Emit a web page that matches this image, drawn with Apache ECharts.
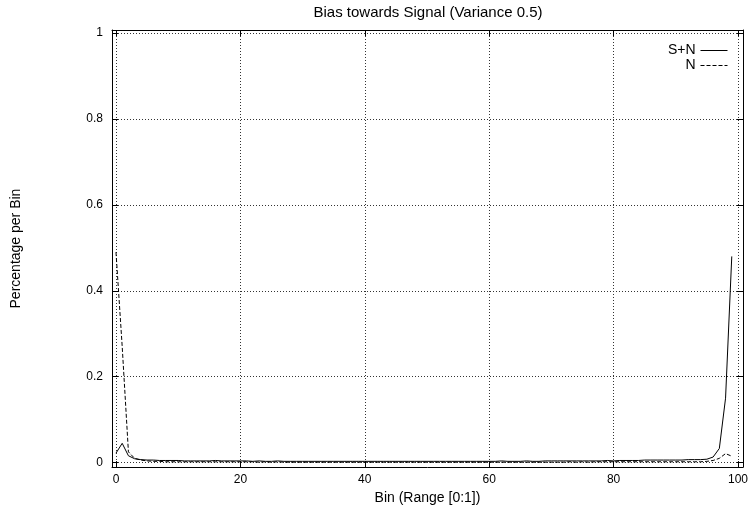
<!DOCTYPE html>
<html>
<head>
<meta charset="utf-8">
<script src="https://cdn.jsdelivr.net/npm/echarts@6/dist/echarts.min.js"></script>
<style>
  html, body { margin: 0; padding: 0; background: #fff; }
  #chart { width: 751px; height: 510px; }
</style>
</head>
<body>
<div id="chart"></div>
<script>
// bin index 0..99
var aBins = [
	0, 1, 2, 3, 4, 5, 6, 7, 8, 9, 10, 11, 12, 13, 14, 15, 16, 17, 18, 19,
	20, 21, 22, 23, 24, 25, 26, 27, 28, 29, 30, 31, 32, 33, 34, 35, 36, 37, 38, 39,
	40, 41, 42, 43, 44, 45, 46, 47, 48, 49, 50, 51, 52, 53, 54, 55, 56, 57, 58, 59,
	60, 61, 62, 63, 64, 65, 66, 67, 68, 69, 70, 71, 72, 73, 74, 75, 76, 77, 78, 79,
	80, 81, 82, 83, 84, 85, 86, 87, 88, 89, 90, 91, 92, 93, 94, 95, 96, 97, 98, 99
];
// S+N
var aSignalNoise = [
	0.022, 0.045, 0.016, 0.009, 0.007, 0.006, 0.006, 0.005, 0.005, 0.005,
	0.005, 0.004, 0.004, 0.004, 0.004, 0.004, 0.005, 0.004, 0.004, 0.004,
	0.004, 0.004, 0.003, 0.004, 0.003, 0.003, 0.004, 0.003, 0.003, 0.003,
	0.003, 0.003, 0.003, 0.003, 0.003, 0.003, 0.003, 0.003, 0.003, 0.003,
	0.003, 0.003, 0.003, 0.003, 0.003, 0.003, 0.003, 0.003, 0.003, 0.003,
	0.003, 0.003, 0.003, 0.003, 0.003, 0.003, 0.003, 0.003, 0.003, 0.003,
	0.003, 0.003, 0.004, 0.003, 0.003, 0.003, 0.004, 0.003, 0.003, 0.004,
	0.004, 0.004, 0.004, 0.004, 0.004, 0.004, 0.004, 0.004, 0.004, 0.005,
	0.004, 0.005, 0.005, 0.005, 0.005, 0.006, 0.006, 0.006, 0.006, 0.006,
	0.006, 0.006, 0.007, 0.007, 0.007, 0.008, 0.013, 0.033, 0.150, 0.480
];
// N
var aNoise = [
	0.490, 0.270, 0.025, 0.010, 0.006, 0.004, 0.003, 0.003, 0.002, 0.002,
	0.002, 0.002, 0.002, 0.002, 0.002, 0.002, 0.002, 0.002, 0.002, 0.002,
	0.002, 0.002, 0.002, 0.001, 0.002, 0.001, 0.002, 0.001, 0.001, 0.001,
	0.001, 0.001, 0.001, 0.001, 0.001, 0.001, 0.001, 0.001, 0.001, 0.001,
	0.001, 0.001, 0.001, 0.001, 0.001, 0.001, 0.001, 0.001, 0.001, 0.001,
	0.001, 0.001, 0.001, 0.001, 0.001, 0.001, 0.001, 0.001, 0.001, 0.001,
	0.001, 0.001, 0.001, 0.001, 0.001, 0.001, 0.001, 0.001, 0.001, 0.001,
	0.001, 0.001, 0.001, 0.002, 0.001, 0.002, 0.001, 0.002, 0.002, 0.002,
	0.002, 0.002, 0.002, 0.002, 0.002, 0.002, 0.002, 0.002, 0.002, 0.002,
	0.002, 0.002, 0.002, 0.002, 0.002, 0.003, 0.005, 0.010, 0.021, 0.015
];
var aSeriesNames = ['S+N', 'N'];
var aXTicks = [0, 20, 40, 60, 80, 100];
var aYTicks = [0, 0.2, 0.4, 0.6, 0.8, 1];

function toPairs(aValues) {
	var aResult = [];
	for (var i = 0; i < aBins.length; i++) {
		aResult.push([aBins[i], aValues[i]]);
	}
	return aResult;
}

function makeTick(aValues) {
	return {show: true, inside: true, length: 6, customValues: aValues, lineStyle: {color: '#000', width: 1}};
}

var sFont = '"Liberation Sans", Arial, sans-serif';
var oGridLine = {show: true, lineStyle: {color: '#333', width: 1, type: [1, 2]}};
var oBorderLine = {show: true, onZero: false, lineStyle: {color: '#000', width: 1}};

var oChart = echarts.init(document.getElementById('chart'), null, {renderer: 'canvas'});
var oChartOpt = {
	animation: false,
	backgroundColor: '#fff',
	textStyle: {fontFamily: sFont},
	title: {
		text: 'Bias towards Signal (Variance 0.5)',
		left: 428,
		top: 5,
		padding: 0,
		textAlign: 'center',
		textStyle: {fontFamily: sFont, fontSize: 15, fontWeight: 'normal', color: '#000'}
	},
	legend: {
		orient: 'vertical',
		right: 23,
		top: 43.5,
		padding: 0,
		align: 'right',
		itemWidth: 27,
		itemHeight: 13,
		itemGap: 1,
		itemStyle: {opacity: 0},
		lineStyle: {width: 1},
		textStyle: {fontFamily: sFont, fontSize: 14, color: '#000'},
		data: aSeriesNames
	},
	grid: {
		left: 112,
		right: 6,
		top: 30,
		bottom: 40.5,
		containLabel: false
	},
	xAxis: [{
		type: 'value',
		min: -0.64,
		max: 100.8,
		name: 'Bin (Range [0:1])',
		nameLocation: 'middle',
		nameGap: 17,
		nameTextStyle: {fontFamily: sFont, fontSize: 14, color: '#000'},
		axisLine: oBorderLine,
		axisTick: makeTick(aXTicks),
		axisLabel: {
			show: true,
			customValues: aXTicks,
			margin: 7,
			fontFamily: sFont,
			fontSize: 12,
			color: '#000'
		},
		splitLine: oGridLine
	}, {
		type: 'value',
		position: 'top',
		min: -0.64,
		max: 100.8,
		axisLine: oBorderLine,
		axisTick: makeTick(aXTicks),
		axisLabel: {show: false},
		splitLine: {show: false}
	}],
	yAxis: [{
		type: 'value',
		min: -0.0104,
		max: 1.007,
		name: 'Percentage per Bin',
		nameLocation: 'middle',
		nameGap: 89,
		nameTextStyle: {fontFamily: sFont, fontSize: 14, color: '#000'},
		axisLine: oBorderLine,
		axisTick: makeTick(aYTicks),
		axisLabel: {
			show: true,
			customValues: aYTicks,
			margin: 9,
			fontFamily: sFont,
			fontSize: 12,
			color: '#000'
		},
		splitLine: oGridLine
	}, {
		type: 'value',
		position: 'right',
		min: -0.0104,
		max: 1.007,
		axisLine: oBorderLine,
		axisTick: makeTick(aYTicks),
		axisLabel: {show: false},
		splitLine: {show: false}
	}],
	series: [
		{
			name: aSeriesNames[0],
			type: 'line',
			xAxisIndex: 0,
			yAxisIndex: 0,
			symbol: 'none',
			color: '#000',
			lineStyle: {color: '#000', width: 1, type: 'solid'},
			data: toPairs(aSignalNoise)
		},
		{
			name: aSeriesNames[1],
			type: 'line',
			xAxisIndex: 0,
			yAxisIndex: 0,
			symbol: 'none',
			color: '#000',
			lineStyle: {color: '#000', width: 1, type: [4, 2]},
			data: toPairs(aNoise)
		}
	]
};
oChart.setOption(oChartOpt);
</script>
</body>
</html>
